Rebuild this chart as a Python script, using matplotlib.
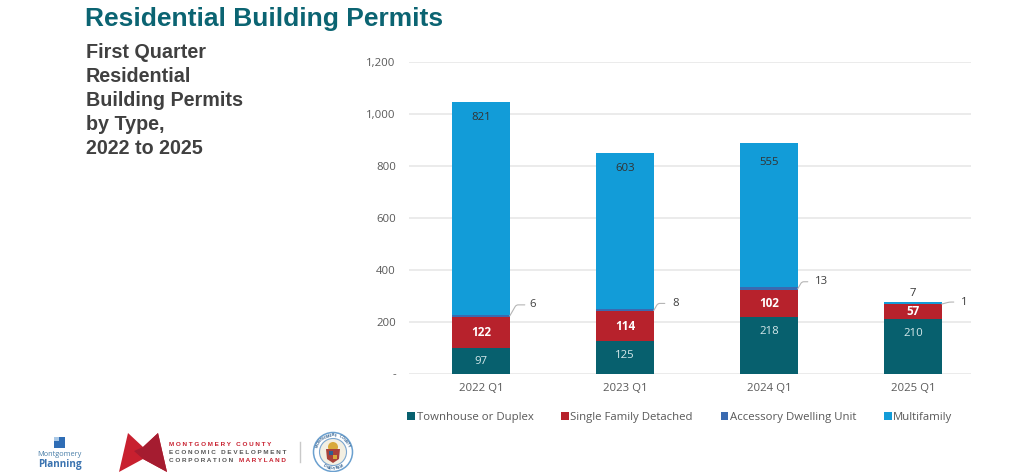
import matplotlib
matplotlib.use('Agg')
import matplotlib.pyplot as plt
import numpy as np
from matplotlib.patches import Polygon, Rectangle, Circle

# Values
quarters = ['2022 Q1', '2023 Q1', '2024 Q1', '2025 Q1']
townhouse = [97, 125, 218, 210]
single_family = [122, 114, 102, 57]
accessory = [6, 8, 13, 1]
multifamily = [821, 603, 555, 7]

y_ticks = [0, 200, 400, 600, 800, 1000, 1200]
y_tick_labels = ['-', '200', '400', '600', '800', '1,000', '1,200']

TEAL = '#07606e'
RED = '#b7222c'
DARK_BLUE = '#3a6ab0'
LIGHT_BLUE = '#129cd8'
GREY = '#595959'
GRID = '#e6e6e6'

W, H = 1024, 472
plt.rcParams['font.family'] = ['Open Sans', 'DejaVu Sans']
fig = plt.figure(figsize=(W / 100, H / 100), dpi=100)

# Full-figure overlay in pixel coordinates for titles and logos
bg = fig.add_axes([0, 0, 1, 1])
bg.set_xlim(0, W)
bg.set_ylim(H, 0)
bg.axis('off')

bg.text(85, 19, 'Residential Building Permits', family='Liberation Sans',
        fontsize=19, fontweight='bold', color='#0b6472', va='center')
side_lines = ['First Quarter', 'Residential', 'Building Permits', 'by Type,', '2022 to 2025']
for i, line in enumerate(side_lines):
    bg.text(86, 52.5 + i * 24, line, family='Liberation Sans', fontsize=14.2,
            fontweight='bold', color='#404040', va='center')

# Montgomery Planning logo
bg.add_patch(Rectangle((53.5, 437), 11, 11, color='#2f6db5', lw=0))
bg.add_patch(Rectangle((53.5, 437), 5, 4, color='#a9c8e6', lw=0))
bg.text(59.5, 454.5, 'Montgomery', fontsize=5.3, color='#4a7fa8', ha='center', va='center')
bg.text(60, 464, 'Planning', fontsize=7.2, fontweight='bold', color='#3a73b0', ha='center', va='center')

# MCEDC logo
bg.add_patch(Polygon([(119, 472), (128, 433), (143, 447), (158, 433), (167, 472), (143, 459)],
                     color='#c8202f', lw=0))
bg.add_patch(Polygon([(134, 451), (143, 447), (158, 433), (167, 472), (143, 459)],
                     color='#a51c30', lw=0))
bg.text(169, 444, 'M O N T G O M E R Y   C O U N T Y', family='Liberation Sans', fontsize=4.6,
        fontweight='bold', color='#c8202f', va='center')
bg.text(169, 452, 'E C O N O M I C   D E V E L O P M E N T', family='Liberation Sans', fontsize=4.6,
        fontweight='bold', color='#555555', va='center')
bg.text(169, 460, 'C O R P O R A T I O N', family='Liberation Sans', fontsize=4.6,
        fontweight='bold', color='#555555', va='center')
bg.text(239, 460, 'M A R Y L A N D', family='Liberation Sans', fontsize=4.6,
        fontweight='bold', color='#c8202f', va='center')
bg.plot([300, 300], [442, 462], color='#c9c9c9', lw=1)

# County seal
seal_x, seal_y = 333, 452
bg.add_patch(Circle((seal_x, seal_y), 19.5, fc='#ffffff', ec='#6ba0cf', lw=1.1))
bg.add_patch(Circle((seal_x, seal_y), 13.5, fc='#f3efe2', ec='#7aa5cf', lw=0.8))
bg.add_patch(Circle((seal_x, seal_y - 5), 5, fc='#d9a93a', ec='none'))
bg.add_patch(Polygon([(326, 449), (340, 449), (339, 459), (333, 463), (327, 459)], color='#a8413a', lw=0))
bg.add_patch(Rectangle((329, 451), 4, 4, color='#2f5f8f', lw=0))
bg.add_patch(Rectangle((333, 455), 4, 4, color='#d9a93a', lw=0))
ring_top = 'MONTGOMERY COUNTY'
for i, ch in enumerate(ring_top):
    a = np.radians(-68 + i * 136 / (len(ring_top) - 1))
    bg.text(seal_x + 16.5 * np.sin(a), seal_y - 16.5 * np.cos(a), ch, fontsize=2.6, color='#2f5f8f',
            ha='center', va='center', rotation=-np.degrees(a), fontweight='bold')
ring_bottom = 'MARYLAND'
for i, ch in enumerate(ring_bottom):
    a = np.radians(30 - i * 60 / (len(ring_bottom) - 1))
    bg.text(seal_x + 16.5 * np.sin(a), seal_y + 16.5 * np.cos(a), ch, fontsize=2.6, color='#2f5f8f',
            ha='center', va='center', rotation=np.degrees(a), fontweight='bold')

# Chart
ax = fig.add_axes([409 / W, 1 - 373.5 / H, 562 / W, 311.5 / H])
x = np.arange(len(quarters))
width = 0.40

townhouse = np.array(townhouse)
single_family = np.array(single_family)
accessory = np.array(accessory)
multifamily = np.array(multifamily)

b1 = ax.bar(x, townhouse, width, color=TEAL, label='Townhouse or Duplex', zorder=3)
b2 = ax.bar(x, single_family, width, bottom=townhouse, color=RED,
            label='Single Family Detached', zorder=3)
b3 = ax.bar(x, accessory, width, bottom=townhouse + single_family, color=DARK_BLUE,
            label='Accessory Dwelling Unit', zorder=3)
b4 = ax.bar(x, multifamily, width, bottom=townhouse + single_family + accessory, color=LIGHT_BLUE,
            label='Multifamily', zorder=3)

ax.set_xlim(-0.5, 3.403)
ax.set_ylim(0, 1200)
ax.set_yticks(y_ticks)
ax.set_yticklabels(y_tick_labels)
ax.set_xticks(x)
ax.set_xticklabels(quarters)
ax.tick_params(axis='both', length=0, labelsize=8.2, labelcolor=GREY)
ax.tick_params(axis='x', pad=7)
ax.tick_params(axis='y', pad=9.5)
ax.grid(axis='y', color=GRID, lw=1.1, zorder=0)
ax.set_axisbelow(True)
for s in ax.spines.values():
    s.set_visible(False)
ax.patch.set_alpha(0)


def px(dy):
    # pixels to offset points
    return dy * 0.72


# Townhouse labels sit a little off centre in the source
town_shift = [-1, 1.5, 14, 13]
for i, v in enumerate(townhouse):
    ax.annotate(str(v), (x[i], v / 2), xytext=(0, px(town_shift[i])), textcoords='offset points',
                ha='center', va='center', color='#d5e8ea', fontsize=8.2, zorder=5)

for i, v in enumerate(single_family):
    ax.annotate(str(v), (x[i], townhouse[i] + v / 2), textcoords='offset points', xytext=(0, 0),
                ha='center', va='center', color='white', fontsize=8.4, fontweight='bold', zorder=5)

# Multifamily labels: near the top of the bars, above it for 2025
tops = townhouse + single_family + accessory + multifamily
multi_shift = [-16, -16, -20, 9]
for i, v in enumerate(multifamily):
    ax.annotate(str(v), (x[i], tops[i]), xytext=(0, px(multi_shift[i])), textcoords='offset points',
                ha='center', va='center', color='#333333', fontsize=8.2, zorder=5)

# Accessory labels with leader lines
leader_off = [(15, 11), (11, 7), (10, 7), (12, 2)]
text_off = [(23, 11), (22, 7), (24, 7), (22, 2)]
for i, v in enumerate(accessory):
    y0 = townhouse[i] + single_family[i] + v / 2
    xr = x[i] + width / 2
    dx, dy = leader_off[i]
    ax.annotate('', (xr, y0), xytext=(px(dx), px(dy)), textcoords='offset points',
                arrowprops=dict(arrowstyle='-', color='#b5b5b5', lw=0.8, shrinkA=0, shrinkB=0,
                                connectionstyle='angle,angleA=0,angleB=%d,rad=2' % (60 if i < 3 else 15)),
                zorder=4, annotation_clip=False)
    ax.annotate(str(v), (xr, y0), xytext=(px(text_off[i][0]), px(text_off[i][1])),
                textcoords='offset points', ha='center', va='center', color='#404040',
                fontsize=8.2, annotation_clip=False, zorder=5)

fig.legend(handles=[b1, b2, b3, b4], loc='center', bbox_to_anchor=(680 / W, 1 - 417.5 / H),
           ncol=4, frameon=False, fontsize=8.2, labelcolor=GREY, handlelength=0.65,
           handleheight=0.65, handletextpad=0.15, columnspacing=2.45, borderpad=0)

fig.savefig('out.png', dpi=100, facecolor='white')
